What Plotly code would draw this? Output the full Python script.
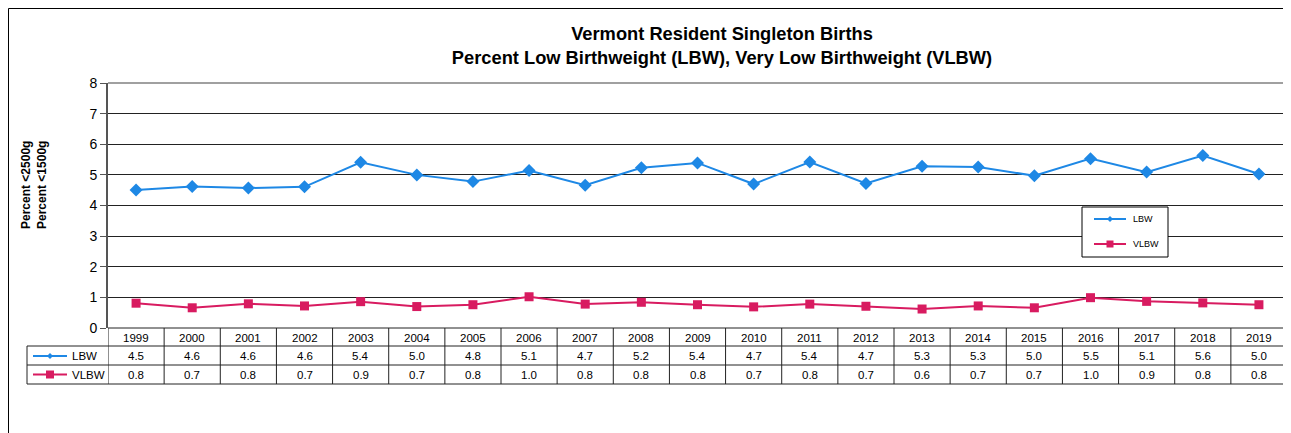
import plotly.graph_objects as go

# ---------------- data ----------------
years = ["1999", "2000", "2001", "2002", "2003", "2004", "2005", "2006", "2007", "2008",
         "2009", "2010", "2011", "2012", "2013", "2014", "2015", "2016", "2017", "2018", "2019"]
lbw = [4.51, 4.62, 4.57, 4.61, 5.41, 5.00, 4.78, 5.14, 4.66, 5.23, 5.39,
       4.70, 5.42, 4.72, 5.28, 5.26, 4.97, 5.53, 5.09, 5.63, 5.03]
vlbw = [0.81, 0.66, 0.79, 0.72, 0.86, 0.70, 0.76, 1.02, 0.78, 0.84, 0.76,
        0.69, 0.78, 0.71, 0.62, 0.72, 0.66, 0.99, 0.87, 0.82, 0.76]
series_names = ["LBW", "VLBW"]
y_ticks = [0, 1, 2, 3, 4, 5, 6, 7, 8]

# ---------------- layout (page pixel coordinates) ----------------
OFF = 8                      # default page body margin
PAGE_W, PAGE_H = 1291, 433
W, H = PAGE_W - OFF, PAGE_H - OFF
L, R, T, B = 108, 1287, 83, 328   # plot area in page pixels
FONT = "Liberation Sans, Arial, sans-serif"
BLUE = "#1E88E5"
PINK = "#D81B60"
LINE = "#222222"


def px(x):
    return (x - L) / (R - L)


def py(y):
    return (B - y) / (B - T)


fig = go.Figure()
fig.add_trace(go.Scatter(x=years, y=lbw, name=series_names[0], mode="lines+markers",
                         line=dict(color=BLUE, width=2),
                         marker=dict(symbol="diamond", size=10, color=BLUE)))
fig.add_trace(go.Scatter(x=years, y=vlbw, name=series_names[1], mode="lines+markers",
                         line=dict(color=PINK, width=2),
                         marker=dict(symbol="square", size=9, color=PINK)))

shapes = []
# outer frame (left/top edges just inside the drawable area)
shapes.append(dict(type="rect", xref="paper", yref="paper", x0=px(8.5), x1=px(1300),
                   y0=py(8.5), y1=py(445), line=dict(color="black", width=1), layer="below"))
# plot-area border (top & right)
shapes.append(dict(type="line", xref="paper", yref="paper", x0=0, x1=1, y0=1, y1=1,
                   line=dict(color="#808080", width=1.5)))
shapes.append(dict(type="line", xref="paper", yref="paper", x0=1, x1=1, y0=0, y1=1,
                   line=dict(color="#808080", width=1.5)))

# data table grid
row_tops = [328, 346, 365, 384]
for i, yy in enumerate(row_tops):
    x0 = px(108) if i == 0 else px(27)
    shapes.append(dict(type="line", xref="paper", yref="paper", x0=x0, x1=1,
                       y0=py(yy), y1=py(yy), line=dict(color=LINE, width=1)))
shapes.append(dict(type="line", xref="paper", yref="paper", x0=px(27), x1=px(27),
                   y0=py(346), y1=py(384), line=dict(color=LINE, width=1)))
for k in range(len(years) + 1):
    shapes.append(dict(type="line", xref="x", yref="paper", x0=k - 0.5, x1=k - 0.5,
                       y0=py(328), y1=py(384), line=dict(color=LINE, width=1)))

annotations = []
TF = dict(size=11.5, color="black", family=FONT)


def label(x, y, text, font, xref="paper", xanchor="center"):
    annotations.append(dict(x=x, y=y, xref=xref, yref="paper", text=text, showarrow=False,
                            xanchor=xanchor, yanchor="middle", font=font))


# table header and values
for k, yr in enumerate(years):
    label(k, py(337.5), yr, TF, xref="x")
    label(k, py(356), f"{lbw[k]:.1f}", TF, xref="x")
    label(k, py(375), f"{vlbw[k]:.1f}", TF, xref="x")


def legend_glyph(cx, cy, color, kind, half=17, ms=3.5):
    shapes.append(dict(type="line", xref="paper", yref="paper", x0=px(cx - half), x1=px(cx + half),
                       y0=py(cy), y1=py(cy), line=dict(color=color, width=2)))
    if kind == "diamond":
        p = (f"M {px(cx - ms)} {py(cy)} L {px(cx)} {py(cy - ms)} L {px(cx + ms)} {py(cy)} "
             f"L {px(cx)} {py(cy + ms)} Z")
    else:
        p = (f"M {px(cx - ms)} {py(cy - ms)} L {px(cx + ms)} {py(cy - ms)} L {px(cx + ms)} {py(cy + ms)} "
             f"L {px(cx - ms)} {py(cy + ms)} Z")
    shapes.append(dict(type="path", xref="paper", yref="paper", path=p,
                       fillcolor=color, line=dict(color=color, width=0)))


# legend keys inside table
legend_glyph(50, 356, BLUE, "diamond", ms=3)
legend_glyph(50, 374.5, PINK, "square", ms=4)
label(px(70), py(356), series_names[0], TF, xanchor="left")
label(px(70), py(375), series_names[1], TF, xanchor="left")

# in-plot legend box
shapes.append(dict(type="rect", xref="paper", yref="paper", x0=px(1082), x1=px(1168),
                   y0=py(207), y1=py(257), line=dict(color="black", width=1),
                   fillcolor="white"))
legend_glyph(1110, 219, BLUE, "diamond", half=16, ms=3)
legend_glyph(1110, 244, PINK, "square", half=16, ms=3.5)
LF = dict(size=9, color="black", family=FONT)
label(px(1131), py(219), series_names[0], LF, xanchor="left")
label(px(1131), py(244), series_names[1], LF, xanchor="left")

# y-axis title
annotations.append(dict(x=px(34), y=py(185), xref="paper", yref="paper",
                        xanchor="center", yanchor="middle",
                        text="<b>Percent <2500g<br>Percent <1500g</b>", textangle=-90,
                        showarrow=False, font=dict(size=12, color="black", family=FONT)))

fig.update_layout(
    width=W, height=H,
    margin=dict(l=L - OFF, r=PAGE_W - R, t=T - OFF, b=PAGE_H - B, autoexpand=False),
    paper_bgcolor="white", plot_bgcolor="white",
    font=dict(family=FONT, color="black"),
    title=dict(text="<b>Vermont Resident Singleton Births<br>Percent Low Birthweight (LBW), Very Low Birthweight (VLBW)</b>",
               x=(722 - OFF) / W, xanchor="center", xref="container",
               y=1 - 32 / H, yanchor="top", yref="container",
               font=dict(size=18.3, color="black", family=FONT)),
    xaxis=dict(type="category", range=[-0.5, len(years) - 0.5], showticklabels=False,
               showgrid=False, zeroline=False, showline=False, ticks=""),
    yaxis=dict(range=[0, 8], tickvals=y_ticks, showgrid=True, gridcolor=LINE, gridwidth=1,
               zeroline=False, showline=True, linecolor="#555555", linewidth=2,
               ticks="outside", ticklen=6, tickcolor="#555555",
               tickfont=dict(size=14, color="black", family=FONT)),
    showlegend=False,
    shapes=shapes,
    annotations=annotations,
)

fig.write_html("out.html")
